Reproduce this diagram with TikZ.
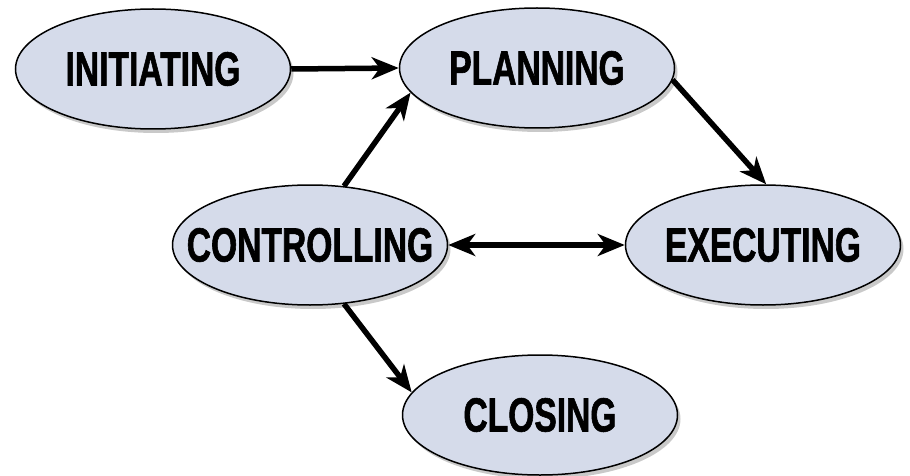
\documentclass[tikz,border=0pt]{standalone}
\usepackage{fontspec}
\setmainfont{Liberation Sans}
\newfontfamily\lblfont{Liberation Sans}[FakeStretch=0.70,FakeBold=1.2]
\usetikzlibrary{arrows.meta,shadows,shapes.geometric}
\definecolor{phasefill}{RGB}{213,219,234}
\begin{document}
\begin{tikzpicture}[x=1pt,y=-1pt,
  phase/.style={ellipse, draw=black, line width=1.5pt, fill=phasefill,
    minimum width=275pt, minimum height=120pt, inner sep=0pt,
    font=\lblfont\bfseries\fontsize{48}{48}\selectfont,
    drop shadow={shadow xshift=3pt, shadow yshift=-4pt, opacity=0.3, fill=black!70}},
  tip/.tip={Stealth[length=27pt,width=22pt,inset=8pt]},
  flow/.style={line width=5.5pt, -tip},
  bothflow/.style={line width=5.5pt, tip-tip}]
\useasboundingbox (0,0) rectangle (910,476);
\node[phase] (ini) at (153,69) {\makebox[0pt]{INITIATING}};
\node[phase] (pln) at (537,68) {\makebox[0pt]{PLANNING}};
\node[phase] (ctl) at (310,245) {\makebox[0pt]{CONTROLLING}};
\node[phase] (exe) at (763,245) {\makebox[0pt]{EXECUTING}};
\node[phase] (clo) at (540,415) {\makebox[0pt]{CLOSING}};
\draw[flow] (ini.east) -- (pln.west);
\draw[flow] (ctl.60) -- (pln.191);
\draw[flow] (pln.-5) -- (exe.87);
\draw[bothflow] (ctl.east) -- (exe.west);
\draw[flow] (ctl.-60) -- (clo.170);
\end{tikzpicture}
\end{document}
